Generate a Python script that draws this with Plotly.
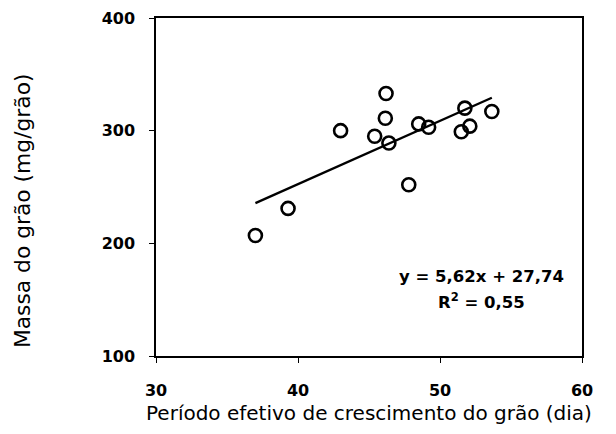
import plotly.graph_objects as go

# Data
periodo = [37.0, 39.3, 43.0, 45.4, 46.2, 46.15, 46.4, 47.8, 48.5, 49.2, 51.5, 51.75, 52.1, 53.65]
massa = [207, 231, 300, 295, 333, 311, 289, 252, 306, 303, 299, 320, 304, 317]
slope = 5.62
intercept = 27.74
r2 = 0.55
x_ticks = [30, 40, 50, 60]
y_ticks = [100, 200, 300, 400]

fig = go.Figure()
x_line = [min(periodo), max(periodo)]
y_line = [slope * v + intercept for v in x_line]
fig.add_trace(go.Scatter(x=x_line, y=y_line, mode="lines",
                         line=dict(color="black", width=2.3), showlegend=False))
fig.add_trace(go.Scatter(x=periodo, y=massa, mode="markers",
                         marker=dict(symbol="circle-open", size=13, color="black",
                                     line=dict(width=2.6, color="black")),
                         showlegend=False))

FAM = "DejaVu Sans, Verdana, sans-serif"
tickfont = dict(family=FAM, size=16, color="black", weight="bold")
fig.update_xaxes(range=[30, 60], tickvals=x_ticks, ticktext=[str(v) for v in x_ticks],
                 showline=True, linecolor="black", linewidth=1.5, mirror=True,
                 ticks="outside", ticklen=5, tickwidth=1.2, tickcolor="black",
                 ticklabelstandoff=14, automargin=False,
                 showgrid=False, zeroline=False, tickfont=tickfont)
fig.update_yaxes(range=[100, 400], tickvals=y_ticks, ticktext=[str(v) for v in y_ticks],
                 showline=True, linecolor="black", linewidth=1.5, mirror=True,
                 ticks="outside", ticklen=5, tickwidth=1.2, tickcolor="black",
                 ticklabelstandoff=11, automargin=False,
                 showgrid=False, zeroline=False, tickfont=tickfont)

fig.add_annotation(text="Período efetivo de crescimento do grão (dia)",
                   xref="paper", yref="paper", x=0.5, y=-0.169, yanchor="middle",
                   showarrow=False, font=dict(family=FAM, size=20, color="black"))
fig.add_annotation(text="Massa do grão (mg/grão)",
                   xref="paper", yref="paper", x=-0.312, y=0.429, xanchor="center",
                   yanchor="middle", textangle=-90, showarrow=False,
                   font=dict(family=FAM, size=21.8, color="black"))
eqfont = dict(family=FAM, size=16.5, color="black", weight="bold")
fig.add_annotation(text=f"y = {slope:.2f}x + {intercept:.2f}".replace(".", ","),
                   xref="x", yref="y", x=52.9, y=171,
                   showarrow=False, font=eqfont)
fig.add_annotation(text=f"R<sup>2</sup> = {r2:.2f}".replace(".", ","),
                   xref="x", yref="y", x=52.9, y=149,
                   showarrow=False, font=eqfont)

fig.update_layout(width=608, height=426, paper_bgcolor="white", plot_bgcolor="white",
                  margin=dict(l=148, r=34, t=10, b=78, autoexpand=False))
fig.write_html("out.html")
